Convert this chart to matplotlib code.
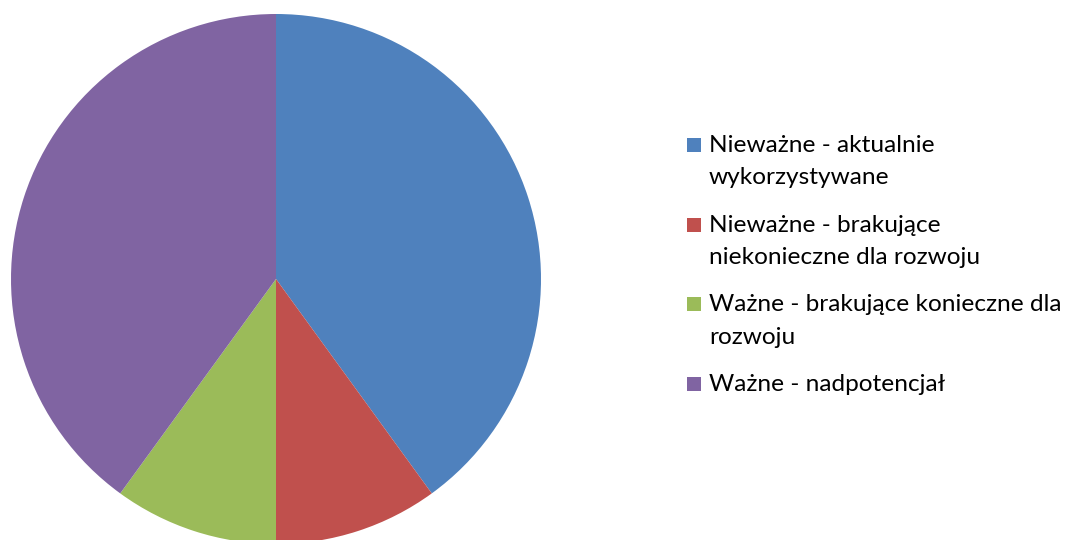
import matplotlib.pyplot as plt
from matplotlib.patches import Rectangle

plt.rcParams['font.family'] = ['Lato', 'DejaVu Sans']

labels = ["Nieważne - aktualnie\nwykorzystywane",
          "Nieważne - brakujące\nniekonieczne dla rozwoju",
          "Ważne - brakujące konieczne dla\nrozwoju",
          "Ważne - nadpotencjał"]
values = [40, 10, 10, 40]
colors = ["#4F81BD", "#C0504D", "#9BBB59", "#8064A2"]

W, H = 1065, 540
fig = plt.figure(figsize=(W / 100, H / 100), dpi=100)

# pie centre at (276, 279) px from top-left, radius 265 px
cx, cy, r = 276, 279, 265
ax = fig.add_axes([(cx - r) / W, (H - cy - r) / H, 2 * r / W, 2 * r / H])
wedges, _ = ax.pie(values, colors=colors, startangle=90, counterclock=False,
                   radius=1.0, wedgeprops=dict(linewidth=0))
ax.set_xlim(-1, 1)
ax.set_ylim(-1, 1)
ax.set_aspect('equal')
ax.axis('off')

# legend drawn by hand: square aligned with first line of each wrapped label
first_base = 152
entry_step = 79.7
line_step = 32.5
box = 14
for i, (lab, col) in enumerate(zip(labels, colors)):
    b = first_base + entry_step * i
    fig.patches.append(Rectangle((687 / W, (H - b) / H), box / W, box / H,
                                 transform=fig.transFigure, facecolor=col,
                                 edgecolor='none'))
    for k, line in enumerate(lab.split("\n")):
        fig.text(709 / W, (H - b - line_step * k) / H, line, fontsize=17.6,
                 va='baseline', ha='left', color='black')

fig.savefig("out.png", dpi=100)
